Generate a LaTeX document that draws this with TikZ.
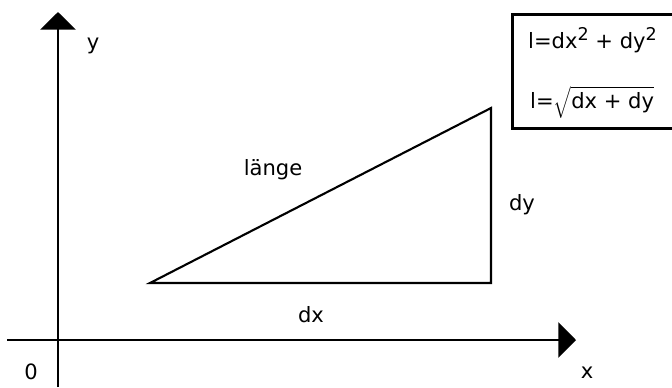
\documentclass[tikz,border=0pt]{standalone}
\usepackage{fontspec}
\setmainfont{DejaVu Sans}
\usetikzlibrary{arrows.meta}
\newcommand{\sqd}{\raisebox{0.38em}{\fontsize{10}{10}\selectfont 2}}

\begin{document}
\begin{tikzpicture}[x=0.02cm,y=-0.02cm, every node/.style={font=\fontsize{12}{14}\selectfont},
    axis/.style={line width=1.2pt, -{Triangle[width=20pt,length=10pt]}},
    side/.style={line width=1.2pt, line join=miter}]
        \useasboundingbox (0,0) rectangle (672,387);
        % axes
        \coordinate (ybot) at (58,387);
        \coordinate (ytop) at (58,12);
        \coordinate (xleft) at (7,340);
        \coordinate (xright) at (576,340);
        \draw[axis] (ybot) -- (ytop);
        \draw[axis] (xleft) -- (xright);
        \node (ylab) at (93,46){y};
        \node (xlab) at (587,373){x};
        \node (orig) at (31,372){0};
        % triangle
        \coordinate (a) at (150,283);
        \coordinate (b) at (491,283);
        \coordinate (c) at (491,108);
        \draw[side] (a) -- (b) -- (c) -- cycle;
        \node (laenge) at (273,170){länge};
        \node (dy) at (522,205){dy};
        \node (dx) at (311,315){dx};
        % formula box
        \draw[line width=1.7pt] (672,14) -- (512,14) -- (512,128) -- (672,128);
        \node[anchor=west] (f1) at (522,40){l=dx\sqd{} + dy\sqd};
        \node[anchor=west] (f2) at (524,102){l=$\sqrt{\hbox{dx + dy}}$};
    \end{tikzpicture}
\end{document}
